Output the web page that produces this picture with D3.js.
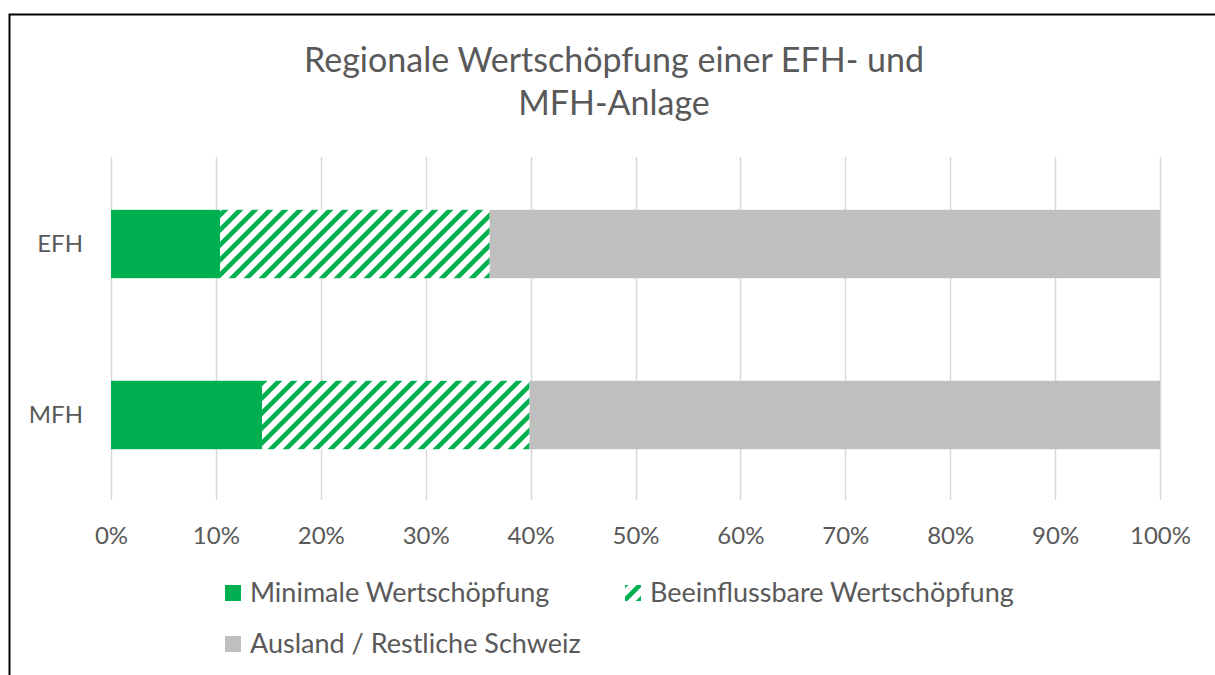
<!DOCTYPE html>
<html>
<head>
<meta charset="utf-8">
<script src="https://cdn.jsdelivr.net/npm/d3@7"></script>
<style>
  body { margin: 0; background: #fff; }
  text { font-family: Lato, "Open Sans", sans-serif; fill: #595959; }
</style>
</head>
<body>
<div id="chart"></div>
<script>
// data (shares of total)
var categories = ["EFH", "MFH"];
var minimal = [0.104, 0.144];
var beeinflussbar = [0.257, 0.255];
var ausland = [0.639, 0.601];
var seriesNames = ["Minimale Wertschöpfung", "Beeinflussbare Wertschöpfung", "Ausland / Restliche Schweiz"];
var ticks = [0, 0.1, 0.2, 0.3, 0.4, 0.5, 0.6, 0.7, 0.8, 0.9, 1];
var titleLines = ["Regionale Wertschöpfung einer EFH- und", "MFH-Anlage"];

var width = 1215, height = 675;
var green = "#00B050", grey = "#BFBFBF";

var svg = d3.select("#chart").append("svg")
  .attr("width", width)
  .attr("height", height);

svg.append("rect").attr("width", width).attr("height", height).attr("fill", "#fff");

// hatch for the second series
var defs = svg.append("defs");
var pat = defs.append("pattern")
  .attr("id", "hatch")
  .attr("patternUnits", "userSpaceOnUse")
  .attr("width", 15)
  .attr("height", 15);
pat.append("rect").attr("width", 15).attr("height", 15).attr("fill", "#fff");
pat.append("path")
  .attr("d", "M-4,4 l8,-8 M0,15 l15,-15 M11,19 l8,-8")
  .attr("stroke", green)
  .attr("stroke-width", 4.6);

// frame (cut off at right/bottom in the reference)
svg.append("path")
  .attr("d", "M9.5," + height + " V14.5 H" + width)
  .attr("fill", "none")
  .attr("stroke", "#000")
  .attr("stroke-width", 2);

// title
svg.append("text")
  .attr("text-anchor", "middle")
  .attr("font-size", 34)
  .selectAll("tspan")
  .data(titleLines)
  .enter()
  .append("tspan")
  .attr("x", 614)
  .attr("y", function(d, i) { return 72 + i * 43; })
  .text(function(d) { return d; });

var x = d3.scaleLinear().domain([0, 1]).range([111, 1160]);
var y = d3.scaleBand().domain(categories).range([158.5, 500.5])
  .paddingInner(0.6).paddingOuter(0.3);

// gridlines
svg.append("g")
  .selectAll("line")
  .data(ticks)
  .enter()
  .append("line")
  .attr("x1", function(d) { return Math.round(x(d)) + 0.5; })
  .attr("x2", function(d) { return Math.round(x(d)) + 0.5; })
  .attr("y1", 157)
  .attr("y2", 500)
  .attr("stroke", "#d9d9d9")
  .attr("stroke-width", 1.5);

// stacked bars
var rows = categories.map(function(c, i) {
  return { cat: c, a: minimal[i], b: beeinflussbar[i], c: ausland[i] };
});
var stack = d3.stack().keys(["a", "b", "c"]);
var layers = stack(rows);
var fills = [green, "url(#hatch)", grey];

svg.append("g")
  .selectAll("g")
  .data(layers)
  .enter()
  .append("g")
  .attr("fill", function(d, i) { return fills[i]; })
  .selectAll("rect")
  .data(function(d) { return d; })
  .enter()
  .append("rect")
  .attr("x", function(d) { return x(d[0]); })
  .attr("width", function(d) { return x(d[1]) - x(d[0]); })
  .attr("y", function(d) { return y(d.data.cat); })
  .attr("height", y.bandwidth());

// x axis labels
var xAxis = d3.axisBottom(x)
  .tickValues(ticks)
  .tickFormat(d3.format(".0%"))
  .tickSize(0)
  .tickPadding(0);
var gx = svg.append("g")
  .attr("transform", "translate(0,527)")
  .call(xAxis);
gx.select(".domain").remove();
gx.selectAll("text")
  .attr("font-size", 24)
  .attr("font-family", "Lato")
  .attr("fill", "#595959")
  .attr("dy", "0.71em");

// category labels
var yAxis = d3.axisLeft(y).tickSize(0).tickPadding(0);
var gy = svg.append("g")
  .attr("transform", "translate(83,0)")
  .call(yAxis);
gy.select(".domain").remove();
gy.selectAll("text")
  .attr("font-size", 24)
  .attr("font-family", "Lato")
  .attr("fill", "#595959");

// legend
var legendPos = [[225, 585], [625, 585], [225, 636]];
var legendFill = [green, "url(#hatch)", grey];
var lg = svg.append("g")
  .selectAll("g")
  .data(seriesNames)
  .enter()
  .append("g")
  .attr("transform", function(d, i) { return "translate(" + legendPos[i][0] + "," + legendPos[i][1] + ")"; });
lg.append("rect")
  .attr("width", 16)
  .attr("height", 16)
  .attr("fill", function(d, i) { return legendFill[i]; });
lg.append("text")
  .attr("x", 25)
  .attr("y", 17)
  .attr("font-size", 27)
  .text(function(d) { return d; });
</script>
</body>
</html>
